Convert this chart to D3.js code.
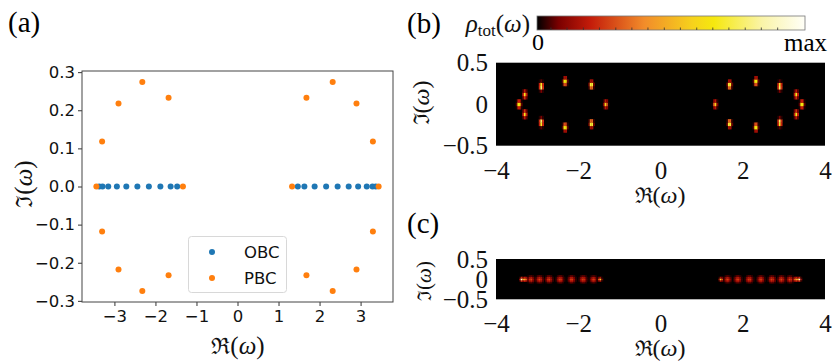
<!DOCTYPE html>
<html><head><meta charset="utf-8">
<script src="https://cdn.jsdelivr.net/npm/d3@7"></script>
<style>body{margin:0;background:#fff}svg{display:block}</style>
</head><body>
<svg id="c" width="833" height="364"></svg>
<script>
// ---------- data ----------
const obcRe = [-3.37,-3.29,-3.15,-2.94,-2.71,-2.44,-2.16,-1.88,-1.63,-1.47,
               1.47,1.63,1.88,2.16,2.44,2.71,2.94,3.15,3.29,3.37];
const obcIm = [0,0,0,0,0,0,0,0,0,0, 0,0,0,0,0,0,0,0,0,0];
const pbcRe = [-3.44,-3.30,-3.30,-2.90,-2.90,-2.32,-2.32,-1.68,-1.68,-1.33,
               1.33,1.68,1.68,2.32,2.32,2.90,2.90,3.30,3.30,3.44];
const pbcIm = [0,0.118,-0.118,0.218,-0.218,0.274,-0.274,0.233,-0.233,0,
               0,0.233,-0.233,0.274,-0.274,0.218,-0.218,0.118,-0.118,0];
// peak spectral weight and broadening of each spot in the density maps (b) PBC, (c) OBC
const pbcWeight = [0.88,0.68,0.68,0.98,0.98,0.9,0.9,0.98,0.98,0.62,
                   0.62,0.98,0.98,0.9,0.9,0.98,0.98,0.68,0.68,0.88];
const pbcWidth  = [0.026,0.026,0.026,0.026,0.026,0.026,0.026,0.026,0.026,0.026,
                   0.026,0.026,0.026,0.026,0.026,0.026,0.026,0.026,0.026,0.026];
const obcWeight = [1.0,0.5,0.27,0.27,0.27,0.27,0.27,0.27,0.27,0.62,
                   0.62,0.27,0.27,0.27,0.27,0.27,0.27,0.27,0.5,1.0];
const obcWidth  = [0.024,0.03,0.045,0.048,0.048,0.048,0.048,0.048,0.045,0.024,
                   0.024,0.045,0.048,0.048,0.048,0.048,0.048,0.045,0.03,0.024];
const xTicksA = [-3,-2,-1,0,1,2,3];
const yTicksA = [-0.3,-0.2,-0.1,0,0.1,0.2,0.3];
const xTicksB = [-4,-2,0,2,4];
const yTicksB = [-0.5,0,0.5];
const cmapPos = [0,0.08,0.2,0.4,0.58,0.66,0.84,1];
const cmapCol = ['#000000','#7a0000','#c41c0a','#f28c2a','#f6d21c','#f5e80e','#faf4a8','#fffff8'];
const cbTicks = [0.052,0.112,0.173,0.233,0.294,0.354,0.414,0.475,0.535,0.596,0.656,0.716,0.777,0.837,0.898];
const legendLabels = ['OBC','PBC'];
const colors = ['#1f77b4','#ff7f0e'];

const svg = d3.select('#c');
const sans = 'DejaVu Sans, sans-serif';
const serif = 'Liberation Serif, DejaVu Serif, serif';
const fmt1 = d3.format('.1f');
const minus = s => String(s).replace('-', '\u2212');

// ---------- panel (a) ----------
const xA = d3.scaleLinear().domain([-3.79,3.79]).range([82,393]);
const yA = d3.scaleLinear().domain([-0.303,0.303]).range([302,71]);
const gA = svg.append('g');
const axX = gA.append('g').attr('transform','translate(0,302)')
  .call(d3.axisBottom(xA).tickValues(xTicksA).tickSize(4).tickPadding(4).tickFormat(d=>minus(d)));
const axY = gA.append('g').attr('transform','translate(82,0)')
  .call(d3.axisLeft(yA).tickValues(yTicksA).tickSize(4).tickPadding(3).tickFormat(d=>minus(fmt1(d))));
[axX,axY].forEach(a=>{a.select('.domain').remove();
  a.selectAll('text').attr('font-family',sans).attr('font-size',16.5).attr('fill','#111');
  a.selectAll('line').attr('stroke','#333');});
gA.append('rect').attr('x',82).attr('y',71).attr('width',311).attr('height',231)
  .attr('fill','none').attr('stroke','#444').attr('stroke-width',1);
gA.selectAll('circle.obc').data(obcRe).join('circle').attr('class','obc')
  .attr('cx',(d)=>xA(d)).attr('cy',(d,i)=>yA(obcIm[i])).attr('r',3).attr('fill',colors[0]);
gA.selectAll('circle.pbc').data(pbcRe).join('circle').attr('class','pbc')
  .attr('cx',(d)=>xA(d)).attr('cy',(d,i)=>yA(pbcIm[i])).attr('r',3).attr('fill',colors[1]);
// legend
const lg = gA.append('g');
lg.append('rect').attr('x',188.5).attr('y',236.5).attr('width',98).attr('height',56).attr('rx',3)
  .attr('fill','#fff').attr('fill-opacity',0.8).attr('stroke','#d8d8d8');
legendLabels.forEach((t,i)=>{
  lg.append('circle').attr('cx',212).attr('cy',252+i*26).attr('r',3).attr('fill',colors[i]);
  lg.append('text').attr('x',244).attr('y',258+i*26).attr('font-family',sans).attr('font-size',16.5)
    .attr('fill','#111').text(t);
});
// labels
function reLabel(g,x,y,size,sym){
  const t = g.append('text').attr('x',x).attr('y',y).attr('text-anchor','middle')
    .attr('font-family',serif).attr('font-size',size).attr('fill','#111');
  t.append('tspan').attr('font-family','DejaVu Serif, serif').attr('font-size',size*0.9).text(sym);
  t.append('tspan').text('(');
  t.append('tspan').attr('font-style','italic').text('ω');
  t.append('tspan').text(')');
  return t;
}
reLabel(gA,238,354,25,'ℜ');
reLabel(gA,0,0,25,'ℑ').attr('transform','translate(32,184) rotate(-90)');
svg.append('text').attr('x',8).attr('y',32).attr('font-family',serif).attr('font-size',29).text('(a)');

// ---------- density maps ----------
const color = d3.scaleLinear().domain(cmapPos).range(cmapCol).clamp(true);
const dx = 0.04, dy = 0.04;
function densityPanel(yTop, yBot, re, im, w, s, pad){
  const x = d3.scaleLinear().domain([-4,4]).range([496,825]);
  const y = d3.scaleLinear().domain([-0.5,0.5]).range([yBot,yTop]);
  const g = svg.append('g');
  g.append('rect').attr('x',x(-4)).attr('y',y(0.5)).attr('width',x(4)-x(-4)).attr('height',y(-0.5)-y(0.5)).attr('fill','#000');
  const cells = [];
  for(let xi=-4; xi<4-1e-9; xi+=dx){
    for(let yi=-0.5; yi<0.5-1e-9; yi+=dy){
      const cx = xi+dx/2, cy = yi+dy/2;
      let v = 0;
      re.forEach((r,k)=>{
        const d2 = (cx-r)*(cx-r)+(cy-im[k])*(cy-im[k]);
        v = Math.max(v, w[k]*Math.exp(-d2/(2*s[k]*s[k])));
      });
      if(v>0.015) cells.push({x0:xi,y0:yi,v});
    }
  }
  g.selectAll('rect.cell').data(cells).join('rect').attr('class','cell')
    .attr('x',d=>x(d.x0)).attr('y',d=>y(d.y0+dy))
    .attr('width',d=>x(d.x0+dx)-x(d.x0)+0.3).attr('height',d=>y(d.y0)-y(d.y0+dy)+0.3)
    .attr('fill',d=>color(d.v));
  const ax = g.append('g').attr('transform',`translate(0,${yBot})`)
    .call(d3.axisBottom(x).tickValues(xTicksB).tickSize(0).tickPadding(pad).tickFormat(d=>minus(d)));
  const ay = g.append('g').attr('transform','translate(496,0)')
    .call(d3.axisLeft(y).tickValues(yTicksB).tickSize(0).tickPadding(8).tickFormat(d=>minus(d)));
  [ax,ay].forEach(a=>{a.select('.domain').remove();
    a.selectAll('text').attr('font-family',serif).attr('font-size',25).attr('fill','#111');});
  return {g,x,y};
}
const pb = densityPanel(62.7,145.7,pbcRe,pbcIm,pbcWeight,pbcWidth,16);
reLabel(pb.g,660,203,24,'ℜ');
reLabel(pb.g,0,0,24,'ℑ').attr('transform','translate(429,103) rotate(-90)');
svg.append('text').attr('x',407).attr('y',33).attr('font-family',serif).attr('font-size',29).text('(b)');

const pc = densityPanel(259,299.3,obcRe,obcIm,obcWeight,obcWidth,15);
reLabel(pc.g,660,356,24,'ℜ');
reLabel(pc.g,0,0,21,'ℑ').attr('transform','translate(431,281) rotate(-90)');
svg.append('text').attr('x',407).attr('y',233).attr('font-family',serif).attr('font-size',29).text('(c)');

// ---------- colorbar ----------
const cb = d3.scaleLinear().domain([0,1]).range([537,805]);
const defs = svg.append('defs');
const lgd = defs.append('linearGradient').attr('id','cmap');
cmapPos.forEach((p,i)=>lgd.append('stop').attr('offset',p).attr('stop-color',cmapCol[i]));
svg.append('rect').attr('x',cb(0)).attr('y',16).attr('width',cb(1)-cb(0)).attr('height',14)
  .attr('fill','url(#cmap)').attr('stroke','#777').attr('stroke-width',0.8);
svg.selectAll('line.cbt').data(cbTicks).join('line').attr('class','cbt')
  .attr('x1',d=>cb(d)).attr('x2',d=>cb(d)).attr('y1',30).attr('y2',27.5).attr('stroke','#333').attr('stroke-width',0.8);
svg.append('text').attr('x',cb(0)+1).attr('y',50).attr('text-anchor','middle').attr('font-family',serif).attr('font-size',24).text('0');
svg.append('text').attr('x',827).attr('y',51).attr('text-anchor','end').attr('font-family',serif).attr('font-size',25).text('max');
const rl = svg.append('text').attr('x',530).attr('y',32).attr('text-anchor','end').attr('font-family',serif).attr('font-size',25).attr('fill','#111');
rl.append('tspan').attr('font-style','italic').text('ρ');
rl.append('tspan').attr('font-size',17).attr('dy',4).text('tot');
rl.append('tspan').attr('dy',-4).text('(');
rl.append('tspan').attr('font-style','italic').text('ω');
rl.append('tspan').text(')');
</script>
</body></html>
